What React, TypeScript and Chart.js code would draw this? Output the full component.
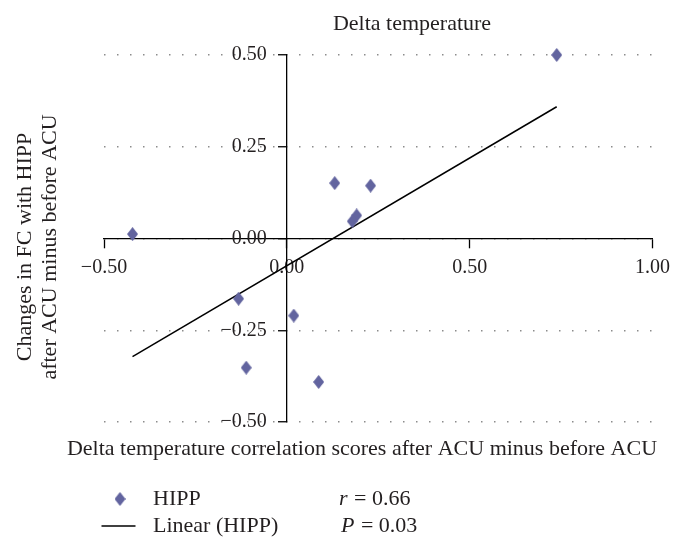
import React, { useEffect, useRef } from 'react';
import { Chart, registerables } from 'chart.js';

Chart.register(...registerables);

// ---- data ----
const xValues = [0.738, 0.131, 0.229, 0.191, 0.179, -0.422, -0.132, 0.019, -0.111, 0.087];
const yValues = [0.5, 0.151, 0.144, 0.063, 0.047, 0.012, -0.164, -0.21, -0.352, -0.391];
const trendX = [-0.422, 0.738];
const trendY = [-0.322, 0.359];
const xTicks = [-0.5, 0, 0.5, 1.0];
const yTicks = [-0.5, -0.25, 0, 0.25, 0.5];
const seriesName = 'HIPP';
const trendName = 'Linear (HIPP)';
const chartTitle = 'Delta temperature';
const xTitle = 'Delta temperature correlation scores after ACU minus before ACU';
const yTitleLines = ['Changes in FC with HIPP', 'after ACU minus before ACU'];
const statItalic = ['r', 'P'];
const statRest = [' = 0.66', ' = 0.03'];

const FONT = "'Liberation Serif', 'Times New Roman', serif";
const TEXT = '#231f20';
const POINT = '#62649f';

function fmt(v: number): string {
  const s = Math.abs(v).toFixed(2);
  return v < -1e-9 ? '\u2212' + s : s;
}

function makeDiamond(w: number, h: number, color: string): HTMLCanvasElement {
  const c = document.createElement('canvas');
  c.width = w;
  c.height = h;
  const g = c.getContext('2d')!;
  g.fillStyle = color;
  g.beginPath();
  g.moveTo(w / 2, 0);
  g.lineTo(w, h / 2);
  g.lineTo(w / 2, h);
  g.lineTo(0, h / 2);
  g.closePath();
  g.fill();
  return c;
}

export default function App() {
  const ref = useRef<HTMLCanvasElement | null>(null);

  useEffect(() => {
    if (!ref.current) return;
    const diamond = makeDiamond(11, 14, POINT);

    const textPlugin = {
      id: 'texts',
      afterDraw(chart: any) {
        const ctx = chart.ctx as CanvasRenderingContext2D;
        ctx.save();
        ctx.fillStyle = TEXT;
        // top title
        ctx.font = `22px ${FONT}`;
        ctx.textAlign = 'center';
        ctx.textBaseline = 'alphabetic';
        ctx.fillText(chartTitle, 404, 22);
        // x title
        ctx.fillText(xTitle, 354, 447);
        // y title
        ctx.save();
        ctx.translate(0, 239);
        ctx.rotate(-Math.PI / 2);
        ctx.textBaseline = 'middle';
        ctx.fillText(yTitleLines[0], 0, 17);
        ctx.fillText(yTitleLines[1], 0, 42);
        ctx.restore();
        // legend
        ctx.drawImage(diamond, 112 - diamond.width / 2, 491 - diamond.height / 2);
        ctx.strokeStyle = '#000';
        ctx.lineWidth = 1.5;
        ctx.beginPath();
        ctx.moveTo(93.5, 518);
        ctx.lineTo(127.5, 518);
        ctx.stroke();
        ctx.textAlign = 'left';
        ctx.textBaseline = 'middle';
        ctx.font = `22px ${FONT}`;
        ctx.fillText(seriesName, 145, 491);
        ctx.fillText(trendName, 145, 518);
        const ys = [491, 518];
        const xs = [331, 333];
        for (let i = 0; i < 2; i++) {
          ctx.font = `italic 22px ${FONT}`;
          ctx.fillText(statItalic[i], xs[i], ys[i]);
          const w = ctx.measureText(statItalic[i]).width;
          ctx.font = `22px ${FONT}`;
          ctx.fillText(statRest[i], xs[i] + w + 1, ys[i]);
        }
        ctx.restore();
      },
    };

    const chart = new Chart(ref.current, {
      type: 'scatter',
      data: {
        datasets: [
          {
            label: seriesName,
            data: xValues.map((x, i) => ({ x, y: yValues[i] })),
            pointStyle: diamond as any,
            pointRadius: 7,
            backgroundColor: POINT,
            borderColor: POINT,
            clip: false,
            order: 0,
          },
          {
            label: trendName,
            data: trendX.map((x, i) => ({ x, y: trendY[i] })),
            showLine: true,
            borderColor: '#000',
            borderWidth: 1.5,
            pointRadius: 0,
            fill: false,
            clip: false,
            order: 1,
          } as any,
        ],
      },
      options: {
        animation: false,
        responsive: false,
        layout: { padding: { left: 96, top: 47, right: 24, bottom: 119 } },
        plugins: { legend: { display: false }, tooltip: { enabled: false } },
        scales: {
          x: {
            type: 'linear',
            min: -0.5,
            max: 1,
            position: { y: 0 } as any,
            afterBuildTicks: (s: any) => { s.ticks = xTicks.map((v) => ({ value: v })); },
            ticks: {
              callback: (v: any) => fmt(Number(v)),
              font: { family: FONT, size: 20 },
              color: TEXT,
              padding: 8,
              maxRotation: 0,
            },
            grid: { drawOnChartArea: false, drawTicks: true, tickLength: 9, tickColor: '#000', tickWidth: 1.3 },
            border: { display: true, color: '#000', width: 1.3 },
          },
          y: {
            type: 'linear',
            min: -0.5,
            max: 0.5,
            position: { x: 0 } as any,
            afterBuildTicks: (s: any) => { s.ticks = yTicks.map((v) => ({ value: v })); },
            ticks: {
              // em space keeps the right-aligned label clear of the tick mark
              callback: (v: any) => fmt(Number(v)) + '\u2003',
              font: { family: FONT, size: 20 },
              color: TEXT,
              padding: 10,
            },
            grid: {
              color: '#8c8c8c',
              lineWidth: 1.5,
              drawTicks: true,
              tickLength: 8,
              tickColor: '#000',
              tickWidth: 1.3,
              tickBorderDash: [],
            },
            border: { display: true, color: '#000', width: 1.3, dash: [1.5, 11.5] },
          },
        },
      },
      plugins: [textPlugin],
    } as any);

    return () => chart.destroy();
  }, []);

  return (
    <div style={{ width: 670, height: 533 }}>
      <canvas ref={ref} width={670} height={533} style={{ display: 'block' }} />
    </div>
  );
}
